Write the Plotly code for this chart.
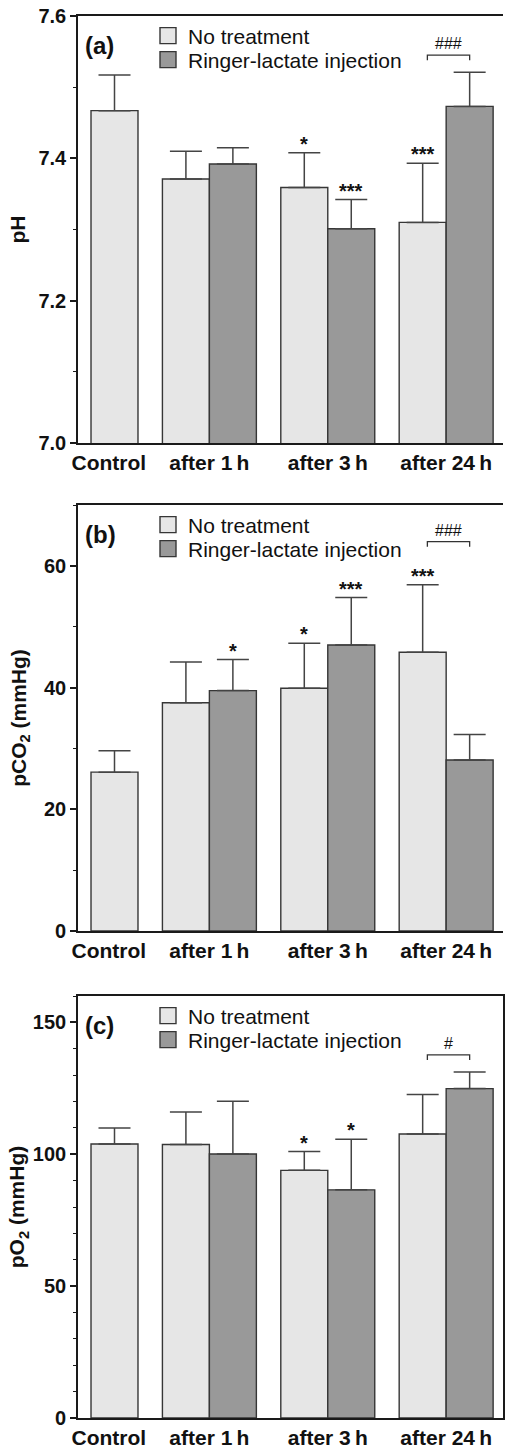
import plotly.graph_objects as go

# ---------------- data ----------------
categories = ["Control", "after 1\u2009h", "after 3\u2009h", "after 24\u2009h"]
series_names = ["No treatment", "Ringer-lactate injection"]

ph_none = [7.467, 7.371, 7.359, 7.310]
ph_none_sd = [0.050, 0.039, 0.049, 0.083]
ph_ringer = [None, 7.392, 7.301, 7.473]
ph_ringer_sd = [None, 0.023, 0.041, 0.048]
ph_none_sig = ["", "", "*", "***"]
ph_ringer_sig = ["", "", "***", ""]
ph_pair_sig = ["", "", "", "###"]

pco2_none = [26.1, 37.5, 39.9, 45.8]
pco2_none_sd = [3.5, 6.7, 7.4, 11.1]
pco2_ringer = [None, 39.5, 47.0, 28.1]
pco2_ringer_sd = [None, 5.1, 7.8, 4.2]
pco2_none_sig = ["", "", "*", "***"]
pco2_ringer_sig = ["", "*", "***", ""]
pco2_pair_sig = ["", "", "", "###"]

po2_none = [103.9, 103.7, 93.9, 107.7]
po2_none_sd = [6.1, 12.3, 7.1, 15.0]
po2_ringer = [None, 100.1, 86.5, 124.9]
po2_ringer_sd = [None, 20.0, 19.2, 6.3]
po2_none_sig = ["", "", "*", ""]
po2_ringer_sig = ["", "", "*", ""]
po2_pair_sig = ["", "", "", "#"]

panel_labels = ["(a)", "(b)", "(c)"]
y_titles = ["pH", "pCO<sub>2</sub> (mmHg)", "pO<sub>2</sub> (mmHg)"]
y_ranges = [[7.0, 7.6], [0, 70], [0, 160]]
y_dticks = [0.2, 20, 50]
y_minor = [0.1, 10, 10]
y_formats = [".1f", "d", "d"]

# ---------------- style ----------------
FONT = "Liberation Sans, Arial, sans-serif"
LIGHT = "#e6e6e6"
DARK = "#999999"
EDGE = "#363636"
AXIS = "#1a1a1a"
BAR_W = 1.0
GAP = 0.52
title_standoff = [7, 12, 2]


def bar_positions(ringer_vals):
    """Bar centres derived from category order (single bar when no Ringer value)."""
    none_x, ringer_x, tick_x = [], [], []
    cursor = 0.0
    for i in range(len(categories)):
        if ringer_vals[i] is None:
            none_x.append(cursor)
            ringer_x.append(None)
            tick_x.append(cursor - 0.12)
            cursor += BAR_W + GAP
        else:
            none_x.append(cursor)
            ringer_x.append(cursor + BAR_W)
            tick_x.append(cursor + BAR_W / 2)
            cursor += 2 * BAR_W + GAP
    return none_x, ringer_x, tick_x


H = 1455.0
W = 505.0
frames = [(16, 443), (505, 931), (996, 1418)]   # panel (top, bottom) in px
legend_rows = [20, 44]                           # legend row centres below panel top
x_dom = [78 / W, 503 / W]
x_range = [-0.777, 8.27]

panels = [
    (ph_none, ph_none_sd, ph_ringer, ph_ringer_sd, ph_none_sig, ph_ringer_sig, ph_pair_sig),
    (pco2_none, pco2_none_sd, pco2_ringer, pco2_ringer_sd, pco2_none_sig, pco2_ringer_sig, pco2_pair_sig),
    (po2_none, po2_none_sd, po2_ringer, po2_ringer_sd, po2_none_sig, po2_ringer_sig, po2_pair_sig),
]

fig = go.Figure()
annotations = []
shapes = []
layout_extra = {}

for p, (nv, nsd, rv, rsd, nsig, rsig, psig) in enumerate(panels):
    sfx = "" if p == 0 else str(p + 1)
    xa, ya = "x" + sfx, "y" + sfx
    none_x, ringer_x, tick_x = bar_positions(rv)

    rx = [x for x, v in zip(ringer_x, rv) if v is not None]
    ry = [v for v in rv if v is not None]
    rs = [s for s, v in zip(rsd, rv) if v is not None]

    for vals_x, vals_y, sds, color, nm in ((none_x, nv, nsd, LIGHT, series_names[0]),
                                           (rx, ry, rs, DARK, series_names[1])):
        fig.add_trace(go.Bar(
            x=vals_x, y=vals_y, width=BAR_W, showlegend=False, name=nm,
            marker=dict(color=color, line=dict(color=EDGE, width=1.4)),
            error_y=dict(type="data", array=sds, arrayminus=[0] * len(sds), symmetric=False,
                         color="#444444", thickness=1.5, width=16),
            xaxis=xa, yaxis=ya,
        ))

    # legend entries (one legend box per entry so the rows can be spaced like the original)
    top_px, bot_px = frames[p]
    for k, (nm, color) in enumerate(zip(series_names, (LIGHT, DARK))):
        lname = "legend" if (p == 0 and k == 0) else f"legend{2 * p + k + 1}"
        fig.add_trace(go.Scatter(
            x=[None], y=[None], mode="markers", name=nm, legend=lname, showlegend=True,
            marker=dict(symbol="square", size=16, color=color, line=dict(color=EDGE, width=1.4)),
            xaxis=xa, yaxis=ya,
        ))
        layout_extra[lname] = dict(
            x=148 / W, xanchor="left", y=1 - (top_px + legend_rows[k]) / H, yanchor="middle",
            font=dict(family=FONT, size=21, color="#111"), bgcolor="rgba(0,0,0,0)",
            itemsizing="trace",
        )

    # significance stars
    for xs, vals, sds, sigs in ((none_x, nv, nsd, nsig), (ringer_x, rv, rsd, rsig)):
        for x, v, s, t in zip(xs, vals, sds, sigs):
            if t and v is not None:
                annotations.append(dict(
                    x=x, y=v + s, xref=xa, yref=ya, text="<b>" + t + "</b>", showarrow=False,
                    yanchor="bottom", yshift=-4, font=dict(family=FONT, size=20, color="#111"),
                ))
    # pair brackets
    for i, t in enumerate(psig):
        if not t:
            continue
        tops = [(nv[i] + nsd[i], bool(nsig[i])), (rv[i] + rsd[i], bool(rsig[i]))]
        top, starred = max(tops, key=lambda a: a[0])
        lift = 12 + (26 if starred else 0)
        x0 = none_x[i] + 0.1
        x1 = ringer_x[i]
        shapes.append(dict(
            type="path", xref=xa, yref=ya, ysizemode="pixel", yanchor=top,
            path=f"M {x0},{lift} L {x0},{lift + 5} L {x1},{lift + 5} L {x1},{lift}",
            line=dict(color="#333333", width=1.3),
        ))
        annotations.append(dict(
            x=(x0 + x1) / 2, y=top, xref=xa, yref=ya, text=t, showarrow=False,
            yanchor="bottom", yshift=lift + 6, font=dict(family=FONT, size=16, color="#111"),
        ))

    y_dom = [1 - bot_px / H, 1 - top_px / H]
    layout_extra["xaxis" + sfx] = dict(
        domain=x_dom, range=x_range, anchor=ya, showgrid=False, zeroline=False,
        showline=True, linecolor=AXIS, linewidth=1.6, mirror=True, ticks="",
        automargin=False,
        tickmode="array", tickvals=tick_x, ticktext=categories,
        tickfont=dict(family=FONT, size=21, color="#111", weight="bold"),
    )
    layout_extra["yaxis" + sfx] = dict(
        domain=y_dom, range=y_ranges[p], anchor=xa, showgrid=False, zeroline=False,
        showline=True, linecolor=AXIS, linewidth=1.6, mirror=(p == 2), automargin=False,
        ticks="outside", ticklen=6, tickwidth=1.5, tickcolor=AXIS, dtick=y_dticks[p],
        tick0=y_ranges[p][0], tickformat=y_formats[p],
        minor=dict(dtick=y_minor[p], ticks="outside", ticklen=3, tickwidth=1.2, tickcolor=AXIS),
        tickfont=dict(family=FONT, size=20, color="#111", weight="bold"),
        title=dict(text=y_titles[p], font=dict(family=FONT, size=21, color="#111", weight="bold"),
                   standoff=title_standoff[p]),
    )
    annotations.append(dict(
        x=83 / W, y=1 - (top_px + 29) / H, xref="paper", yref="paper", xanchor="left",
        yanchor="middle", text="<b>" + panel_labels[p] + "</b>", showarrow=False,
        font=dict(family=FONT, size=24, color="#111"),
    ))

fig.update_layout(
    width=505, height=1455, margin=dict(l=0, r=0, t=0, b=0, autoexpand=False),
    paper_bgcolor="white", plot_bgcolor="white", barmode="overlay",
    annotations=annotations, shapes=shapes, **layout_extra,
)
fig.write_html("out.html")
